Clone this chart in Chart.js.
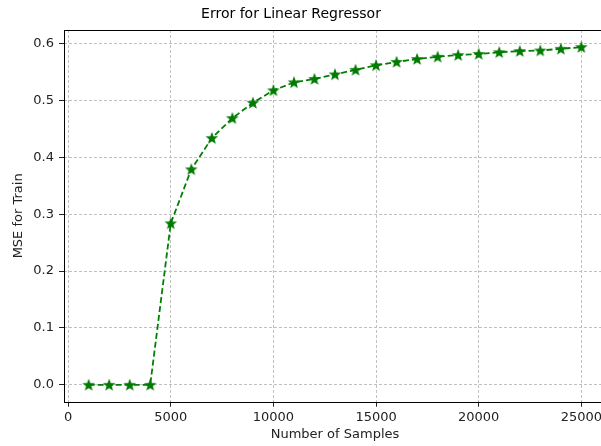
<!DOCTYPE html>
<html>
<head>
<meta charset="utf-8">
<script src="https://cdn.jsdelivr.net/npm/chart.js@4"></script>
<style>
  html, body { margin: 0; padding: 0; background: #fff; overflow: hidden; }
  #wrap { width: 615px; height: 446px; }
</style>
</head>
<body>
<div id="wrap"><canvas id="grafico"></canvas></div>
<script>
// training samples vs. mean squared error
let amostras = [1000, 2000, 3000, 4000, 5000, 6000, 7000, 8000, 9000, 10000, 11000, 12000, 13000,
                14000, 15000, 16000, 17000, 18000, 19000, 20000, 21000, 22000, 23000, 24000, 25000];
let mseTreino = [0.0, 0.0, 0.0, 0.0, 0.284, 0.379, 0.434, 0.469, 0.496, 0.518, 0.532, 0.538, 0.546,
                 0.554, 0.562, 0.568, 0.573, 0.577, 0.580, 0.582, 0.585, 0.587, 0.588, 0.591, 0.594];
let ticksX = [0, 5000, 10000, 15000, 20000, 25000];
let ticksY = [0.0, 0.1, 0.2, 0.3, 0.4, 0.5, 0.6];
let titulo = 'Error for Linear Regressor';

// filled five point star used as the marker
function criarEstrela(cor){
    let c = document.createElement('canvas');
    c.width = 14; c.height = 14;
    let g = c.getContext('2d');
    let cx = 7, cy = 7.4, rExt = 6.6, rInt = 2.8;
    g.beginPath();
    for(let i = 0; i < 10; i++){
        let r = i % 2 === 0 ? rExt : rInt;
        let a = -Math.PI / 2 + i * Math.PI / 5;
        let px = cx + r * Math.cos(a), py = cy + r * Math.sin(a);
        if(i === 0) g.moveTo(px, py); else g.lineTo(px, py);
    }
    g.closePath();
    g.fillStyle = cor;
    g.fill();
    return c;
}

// frame around the plotting area (matplotlib style spines) and the title
let moldura = {
    id: 'moldura',
    afterDraw(chart){
        let a = chart.chartArea, ctx = chart.ctx;
        ctx.save();
        ctx.strokeStyle = '#000';
        ctx.lineWidth = 1;
        ctx.strokeRect(Math.round(a.left) + 0.5, Math.round(a.top) + 0.5,
                       Math.round(a.right - a.left), Math.round(a.bottom - a.top));
        ctx.fillStyle = '#000';
        ctx.font = '14px "DejaVu Sans", sans-serif';
        ctx.textAlign = 'center';
        ctx.textBaseline = 'middle';
        ctx.fillText(titulo, 291, 14);
        ctx.restore();
    }
};

let fonte = { family: '"DejaVu Sans", sans-serif', size: 13 };

let ctx = document.getElementById('grafico').getContext('2d');
let grafico = new Chart(ctx, {
    type: 'line',
    data: {
        datasets: [{
            label: 'MSE',
            data: amostras.map((x, i) => ({ x: x, y: mseTreino[i] })),
            borderColor: '#008000',
            backgroundColor: '#008000',
            borderWidth: 1.8,
            borderDash: [6, 3],
            pointStyle: criarEstrela('#007a00'),
            pointRadius: 6,
            tension: 0,
            fill: false
        }]
    },
    options: {
        responsive: true,
        maintainAspectRatio: false,
        animation: false,
        layout: { padding: { left: 0, right: 9, top: 30, bottom: 0 } },
        plugins: {
            legend: { display: false },
            tooltip: { enabled: false },
            title: { display: false }
        },
        scales: {
            x: {
                type: 'linear',
                min: -200,
                max: 26200,
                afterFit(s){ s.height = 44.3; },
                afterBuildTicks(s){ s.ticks = ticksX.map(v => ({ value: v })); },
                border: { display: false, dash: [3, 2] },
                grid: {
                    color: '#c0c0c0',
                    lineWidth: 1,
                    tickLength: 5,
                    tickColor: '#222',
                    tickBorderDash: [1, 0],
                    drawTicks: true
                },
                ticks: { color: '#222', font: fonte, padding: 3, maxRotation: 0,
                         callback: v => String(v) },
                title: { display: true, text: 'Number of Samples', color: '#222', font: fonte,
                         padding: { top: 4, bottom: 4 } }
            },
            y: {
                type: 'linear',
                min: -0.0297,
                max: 0.6241,
                afterFit(s){ s.width = 64; },
                afterBuildTicks(s){ s.ticks = ticksY.map(v => ({ value: v })); },
                border: { display: false, dash: [3, 2] },
                grid: {
                    color: '#c0c0c0',
                    lineWidth: 1,
                    tickLength: 5,
                    tickColor: '#222',
                    tickBorderDash: [1, 0]
                },
                ticks: { color: '#222', font: fonte, padding: 5,
                         callback: v => v.toFixed(1) },
                title: { display: true, text: 'MSE for Train', color: '#222', font: fonte,
                         padding: { top: 11, bottom: 0 } }
            }
        }
    },
    plugins: [moldura]
});
</script>
</body>
</html>
